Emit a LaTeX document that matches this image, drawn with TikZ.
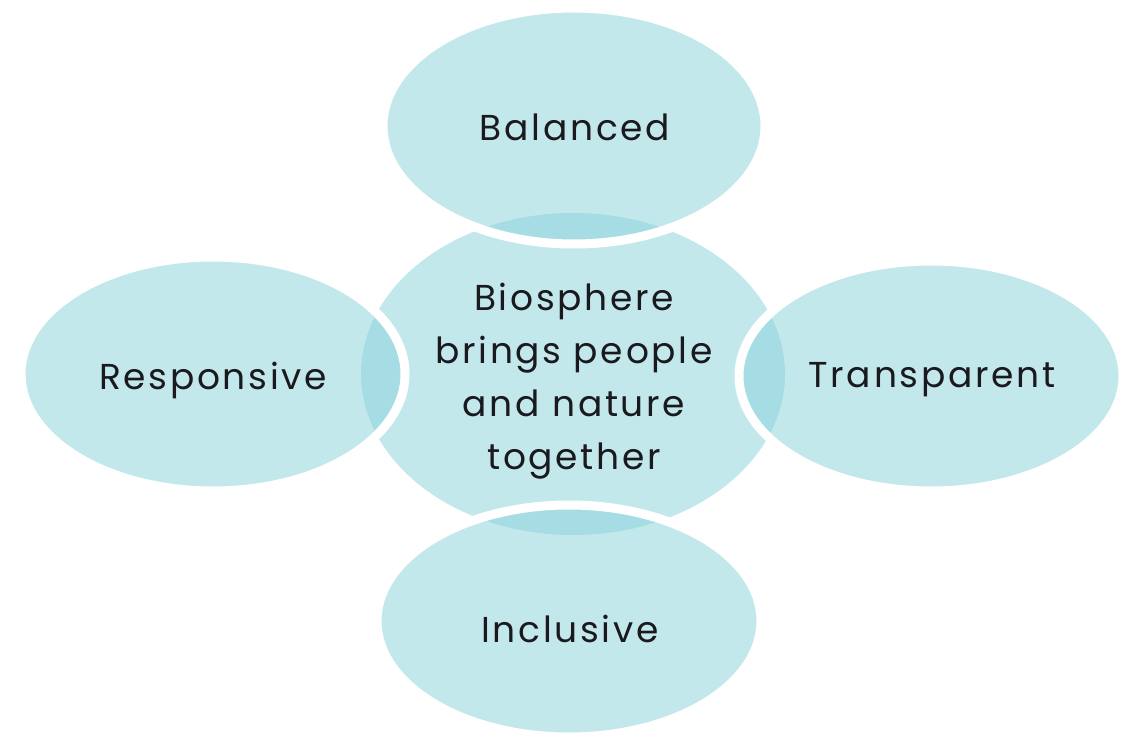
\documentclass[tikz,border=0pt]{standalone}
\usepackage{fontspec}
\setmainfont{Poppins}[LetterSpace=7.5]
\definecolor{lightteal}{RGB}{195,232,236}
\definecolor{darkteal}{RGB}{166,221,229}
\definecolor{txt}{RGB}{25,25,30}
\begin{document}
\begin{tikzpicture}[x=1pt,y=-1pt,
  lbl/.style={text=txt,font=\fontsize{36}{53}\selectfont,align=center,inner sep=0pt},
  sat/.style={fill=lightteal},
  rim/.style={draw=white,line width=9pt}]
\useasboundingbox (0,0) rectangle (1135,738);
\def\central{(573,374) ellipse [x radius=212,y radius=161]}
% central shape
\fill[lightteal] \central;
% satellites
\foreach \cx/\cy/\rx/\ry in {574/126/191/118, 213/374/192/117, 931/376/192/115, 569/621/192/116}{
  \fill[sat] (\cx,\cy) ellipse [x radius=\rx,y radius=\ry];
  \begin{scope}
    \clip (\cx,\cy) ellipse [x radius=\rx,y radius=\ry];
    \fill[darkteal] \central;
  \end{scope}
  \draw[rim] (\cx,\cy) ellipse [x radius=\rx,y radius=\ry];
}
\node[lbl] (center) at (574,381) {Biosphere\\brings people\\and nature\\together};
\node[lbl] (balanced) at (575,127) {Balanced};
\node[lbl] (responsive) at (213,380) {Responsive};
\node[lbl] (transparent) at (932,380) {Transparent};
\node[lbl] (inclusive) at (570,629) {Inclusive};
\end{tikzpicture}
\end{document}
